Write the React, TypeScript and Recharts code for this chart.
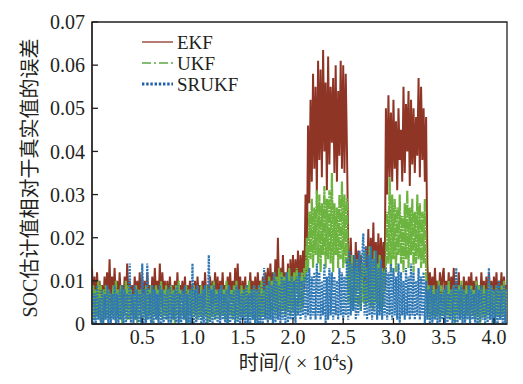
import { LineChart, Line, XAxis, YAxis, Legend, ReferenceArea } from 'recharts';

// sample spacing of the error traces, in 10^4 s
const sampleStep = 0.0125;

// estimation errors, in units of 0.001 (one row = 0.25 x 10^4 s)
const ekfMilli = [
  13, 5, 11, 4, 12, 6, 10, 5, 9, 4, 11, 6, 12, 5, 15, 4, 11, 6, 13, 5,
  10, 4, 12, 6, 9, 5, 11, 4, 14, 6, 10, 5, 9, 4, 11, 6, 10, 5, 12, 4,
  11, 5, 10, 4, 12, 6, 9, 5, 11, 4, 13, 6, 10, 5, 14, 4, 12, 6, 10, 5,
  10, 4, 11, 6, 9, 5, 10, 4, 12, 5, 9, 6, 10, 4, 11, 5, 9, 6, 10, 4,
  9, 5, 10, 4, 11, 6, 9, 5, 10, 4, 12, 6, 9, 5, 11, 4, 10, 6, 12, 5,
  11, 4, 10, 6, 12, 5, 9, 4, 11, 6, 12, 5, 10, 4, 13, 6, 14, 5, 11, 4,
  10, 6, 11, 5, 9, 4, 12, 6, 10, 5, 11, 4, 12, 6, 10, 5, 11, 4, 12, 6,
  13, 5, 14, 7, 12, 6, 15, 5, 20, 7, 13, 6, 16, 7, 12, 5, 14, 6, 15, 7,
  16, 7, 15, 8, 17, 7, 16, 9, 17, 8, 30, 12, 46, 28, 52, 33, 58, 36, 55, 30,
  61, 38, 59, 34, 63.5, 40, 56, 31, 62, 37, 55, 42, 57, 35, 60, 33, 54, 39, 61, 36,
  60, 35, 58, 40, 18, 8, 20, 10, 16, 7, 19, 9, 17, 8, 16, 10, 14, 7, 18, 9,
  22, 9, 20, 10, 23.5, 8, 19, 10, 21, 9, 20, 11, 19, 8, 50, 30, 53, 34, 49, 33,
  52, 36, 47, 31, 50, 38, 45, 33, 55, 35, 51, 40, 54, 32, 52, 37, 50, 35, 48, 39,
  57, 34, 55, 38, 50, 33, 48, 14, 7, 12, 6, 11, 5, 13, 6, 10, 5, 12, 6, 11,
  13, 5, 10, 6, 12, 4, 11, 6, 13, 5, 10, 6, 12, 5, 9, 4, 11, 6, 10, 5,
  11, 6, 12, 5, 10, 4, 11, 6, 9, 5, 12, 6, 10, 5, 11, 4, 12, 6, 10, 5,
  11, 6, 12, 5, 10, 6, 12, 5, 11, 6, 9,
];

const ukfMilli = [
  2, 9, 1, 8, 2, 10, 1, 9, 0, 8, 1, 9, 2, 8, 1, 7, 2, 9, 1, 10,
  2, 8, 1, 9, 0, 8, 2, 10, 1, 9, 1, 8, 2, 7, 1, 9, 0, 8, 2, 8,
  1, 7, 2, 9, 1, 8, 2, 9, 0, 8, 2, 9, 1, 8, 2, 10, 1, 8, 2, 9,
  1, 8, 2, 9, 1, 8, 0, 9, 2, 10, 1, 8, 2, 7, 1, 9, 0, 8, 2, 8,
  1, 9, 2, 8, 1, 7, 2, 9, 1, 8, 2, 9, 0, 8, 1, 9, 2, 10, 1, 8,
  2, 8, 1, 9, 2, 8, 1, 10, 0, 9, 2, 8, 1, 9, 2, 10, 1, 8, 2, 9,
  1, 8, 2, 9, 1, 10, 2, 8, 1, 9, 0, 8, 2, 9, 1, 10, 2, 8, 1, 9,
  2, 11, 1, 10, 3, 12, 2, 11, 3, 13, 2, 12, 3, 11, 2, 12, 3, 13, 2, 11,
  3, 12, 2, 13, 4, 11, 3, 12, 4, 13, 10, 20, 12, 26, 15, 29, 13, 27, 16, 31,
  14, 30, 12, 28, 16, 32, 13, 29, 15, 31, 14, 35, 12, 28, 16, 27, 13, 30, 15, 33,
  13, 30, 14, 29, 5, 14, 4, 16, 3, 13, 5, 15, 4, 12, 3, 14, 5, 17, 4, 13,
  5, 18, 4, 15, 3, 17, 5, 14, 4, 16, 3, 13, 4, 12, 13, 26, 14, 34, 12, 30,
  15, 29, 12, 27, 16, 30, 14, 25, 12, 28, 15, 31, 13, 27, 16, 29, 12, 26, 14, 30,
  15, 28, 13, 26, 14, 29, 12, 3, 9, 1, 8, 2, 9, 1, 8, 2, 10, 1, 9, 2,
  8, 1, 9, 2, 10, 1, 8, 2, 9, 0, 8, 2, 9, 1, 10, 2, 8, 1, 9, 2,
  8, 1, 9, 2, 8, 1, 10, 2, 9, 0, 8, 2, 9, 1, 8, 2, 10, 1, 9, 2,
  8, 1, 9, 2, 8, 1, 9, 2, 10, 1, 8,
];

const srukfMilli = [
  8, 0, 7, 0, 9, 1, 6, 0, 8, 0, 7, 1, 9, 0, 8, 0, 7, 1, 9, 0,
  7, 0, 8, 1, 9, 0, 8, 0, 7, 1, 14, 0, 7, 0, 9, 1, 8, 0, 7, 0,
  14, 0, 8, 0, 14, 1, 7, 0, 9, 0, 8, 1, 7, 0, 9, 0, 8, 0, 7, 1,
  8, 0, 9, 0, 7, 1, 8, 0, 9, 0, 7, 0, 8, 1, 9, 0, 7, 0, 8, 0,
  14, 0, 8, 0, 9, 1, 7, 0, 8, 0, 9, 0, 0, 16, 0, 8, 0, 9, 1, 7,
  0, 8, 0, 9, 1, 7, 0, 8, 0, 9, 0, 7, 1, 8, 0, 9, 0, 8, 0, 7,
  1, 8, 0, 9, 0, 7, 0, 8, 1, 9, 0, 8, 0, 9, 0, 7, 0, 13, 1, 9,
  0, 10, 1, 9, 0, 12, 0, 10, 1, 9, 0, 11, 1, 10, 0, 12, 0, 10, 1, 11,
  1, 10, 0, 11, 2, 12, 1, 10, 2, 11, 1, 12, 2, 13, 1, 11, 2, 12, 1, 14,
  2, 12, 1, 10, 2, 14, 0, 11, 1, 13, 2, 12, 1, 11, 2, 10, 1, 13, 2, 12,
  1, 11, 2, 15, 1, 17, 2, 14, 3, 16, 1, 15, 2, 17, 3, 15, 21, 2, 18, 1,
  16, 2, 18, 1, 15, 2, 17, 1, 13, 2, 15, 1, 12, 2, 13, 1, 12, 2, 14, 1,
  13, 2, 11, 1, 14, 0, 12, 2, 10, 1, 13, 2, 11, 1, 14, 2, 12, 1, 10, 2,
  13, 1, 11, 2, 12, 0, 10, 1, 8, 0, 9, 0, 7, 1, 8, 0, 9, 0, 7, 1,
  8, 0, 9, 0, 7, 1, 8, 0, 9, 0, 13, 0, 8, 1, 9, 0, 8, 0, 7, 1,
  9, 0, 8, 1, 7, 0, 9, 0, 8, 0, 9, 1, 7, 0, 8, 0, 13, 1, 9, 0,
  8, 0, 9, 0, 10, 1, 8, 0, 9, 0, 8,
];

const seriesNames = ['EKF', 'UKF', 'SRUKF'];
const xTicks = [0.5, 1.0, 1.5, 2.0, 2.5, 3.0, 3.5, 4.0];
const yTicks = [0, 0.01, 0.02, 0.03, 0.04, 0.05, 0.06, 0.07];

const font = "'Liberation Serif', 'Times New Roman', 'Noto Sans CJK SC', serif";
const ink = '#231f20';

const styles: Record<string, { color: string; legendColor: string; dash?: string; legendDash?: string; width: number; legendWidth: number }> = {
  EKF: { color: '#8f3526', legendColor: '#8f3526', width: 2.0, legendWidth: 1.3 },
  UKF: { color: '#6cb33f', legendColor: '#5aa843', dash: '10 1 2 1', legendDash: '9 3 2 3', width: 2.2, legendWidth: 1.3 },
  SRUKF: { color: '#3078b4', legendColor: '#1f5fa8', dash: '2 1.2', legendDash: '2.4 1.8', width: 2.2, legendWidth: 3 },
};

const rows = ekfMilli.map((v, i) => ({
  t: +(i * sampleStep).toFixed(4),
  EKF: v / 1000,
  UKF: ukfMilli[i] / 1000,
  SRUKF: srukfMilli[i] / 1000,
}));

function LegendBox() {
  return (
    <svg width={160} height={70}>
      {seriesNames.map((name, i) => {
        const s = styles[name];
        const y = 12 + i * 21;
        return (
          <g key={name}>
            <line x1={2} x2={33} y1={y} y2={y} stroke={s.legendColor} strokeWidth={s.legendWidth} strokeDasharray={s.legendDash} />
            <text x={37} y={y + 6.5} fontSize={19} fontFamily={font} fill={ink}>{name}</text>
          </g>
        );
      })}
    </svg>
  );
}

function XTitle() {
  return (
    <text x={296} y={370} textAnchor="middle" fontSize={20} fontFamily={font} fill={ink}>
      时间/( × 10<tspan dy={-8} fontSize={13}>4</tspan><tspan dy={8}>s)</tspan>
    </text>
  );
}

function YTitle() {
  return (
    <text x={0} y={0} transform="translate(37,178) rotate(-90)" textAnchor="middle" fontSize={20} fontFamily={font} fill={ink}>
      SOC估计值相对于真实值的误差
    </text>
  );
}

export default function App() {
  return (
    <div style={{ position: 'absolute', left: 0, top: 0, background: '#fff' }}>
      <LineChart width={523} height={384} data={rows} margin={{ top: 22, right: 16, bottom: 0, left: 0 }}>
        <XAxis
          dataKey="t"
          type="number"
          domain={[0, 4.13]}
          ticks={xTicks}
          allowDataOverflow
          tickFormatter={(v: number) => v.toFixed(1)}
          tickSize={-6}
          tickMargin={12}
          height={60}
          stroke={ink}
          strokeWidth={1.3}
          tick={{ fill: ink, fontSize: 20, fontFamily: font }}
          label={{ content: XTitle }}
        />
        <YAxis
          type="number"
          domain={[0, 0.07]}
          ticks={yTicks}
          allowDataOverflow
          tickFormatter={(v: number) => (v === 0 ? '0' : v.toFixed(2))}
          tickSize={-6}
          tickMargin={13}
          width={92}
          stroke={ink}
          strokeWidth={1.3}
          tick={{ fill: ink, fontSize: 20, fontFamily: font }}
          label={{ content: YTitle }}
        />
        <ReferenceArea x1={0} x2={4.13} y1={0} y2={0.07} fill="none" stroke={ink} strokeWidth={1.3} ifOverflow="visible" />
        {seriesNames.map((k) => (
          <Line
            key={k}
            dataKey={k}
            type="linear"
            stroke={styles[k].color}
            strokeWidth={styles[k].width}
            strokeDasharray={styles[k].dash}
            strokeLinejoin="bevel"
            dot={false}
            activeDot={false}
            isAnimationActive={false}
          />
        ))}
        <Legend
          layout="vertical"
          align="center"
          verticalAlign="middle"
          wrapperStyle={{ top: 30, left: 140, width: 160, height: 70 }}
          content={LegendBox}
        />
      </LineChart>
    </div>
  );
}
